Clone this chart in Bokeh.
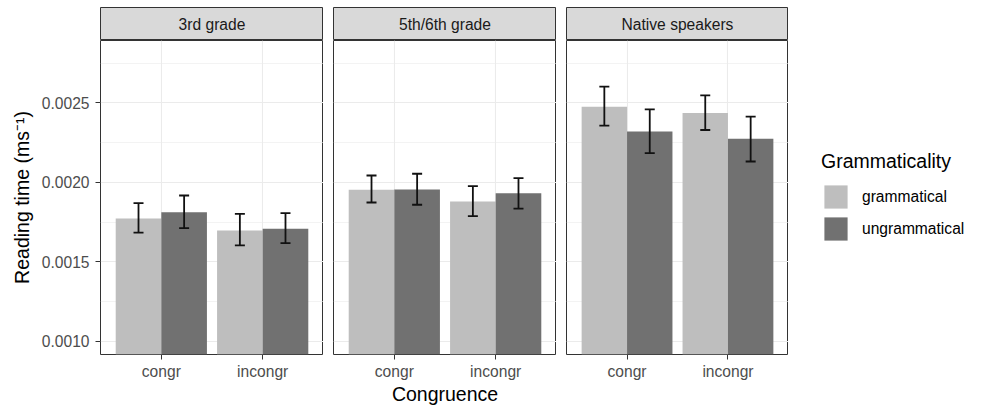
from bokeh.plotting import figure
from bokeh.layouts import row, column
from bokeh.models import (Range1d, FixedTicker, LinearAxis, Grid, PrintfTickFormatter,
                          ColumnDataSource, Whisker, TeeHead, Legend, LegendItem)
from bokeh.core.properties import value
from bokeh.embed import file_html
from bokeh.resources import INLINE

# ---------------- data ----------------
groups = ["3rd grade", "5th/6th grade", "Native speakers"]
congruence = ["congr", "incongr"]
grammaticality = ["grammatical", "ungrammatical"]

# mean reading time per group, [congr, incongr]
gram_mean = [[0.001774, 0.001698], [0.001954, 0.001880], [0.002477, 0.002437]]
ungram_mean = [[0.001813, 0.001709], [0.001956, 0.001933], [0.002320, 0.002275]]
# error bar limits
gram_lower = [[0.001684, 0.001604], [0.001874, 0.001788], [0.002357, 0.002330]]
gram_upper = [[0.001870, 0.001803], [0.002044, 0.001977], [0.002603, 0.002548]]
ungram_lower = [[0.001713, 0.001618], [0.001860, 0.001836], [0.002184, 0.002132]]
ungram_upper = [[0.001918, 0.001807], [0.002055, 0.002027], [0.002460, 0.002414]]

y_major = [0.0010, 0.0015, 0.0020, 0.0025]
y_minor = [0.00125, 0.00175, 0.00225, 0.00275]

# ---------------- style ----------------
FONT = "Liberation Sans"
COL_G = "#BEBEBE"
COL_U = "#717171"
GRID = "#EBEBEB"
BORDER = "#333333"
DODGE = 0.225
BAR_W = 0.45
FRAME_H = 314
STRIP_H = 33

cat_pos = [i + 1 for i in range(len(congruence))]
label_map = {pos: name for pos, name in zip(cat_pos, congruence)}


def base_fig(fw, fh, left, right, top, xr, yr):
    f = figure(frame_width=fw, frame_height=fh, x_range=xr, y_range=yr,
               x_axis_location=None, y_axis_location=None,
               min_border_left=left, min_border_right=right, min_border_top=top,
               min_border_bottom=0, output_backend="svg", toolbar_location=None)
    f.center = []
    f.background_fill_color = "white"
    f.border_fill_color = "white"
    return f


def make_strip(i, fw, left):
    s = base_fig(fw, STRIP_H, left, 0, 7, Range1d(0, 1), Range1d(0, 1))
    s.background_fill_color = "#D9D9D9"
    s.outline_line_color = BORDER
    s.outline_line_width = 1
    s.text(x=[0.5], y=[0.5], text=[groups[i]], text_align="center",
           text_baseline="middle", text_font=value(FONT),
           text_font_size="15.6px", text_color="#1A1A1A")
    return s


def make_panel(i, fw, left, right):
    p = base_fig(fw, FRAME_H, left, right, 0, Range1d(0.4, 2.6),
                 Range1d(0.000918, 0.002893))
    p.outline_line_color = BORDER
    p.outline_line_width = 1

    p.add_layout(Grid(dimension=0, ticker=FixedTicker(ticks=cat_pos),
                      grid_line_color=GRID, grid_line_width=1.1))
    p.add_layout(Grid(dimension=1, ticker=FixedTicker(ticks=y_major, minor_ticks=y_minor),
                      grid_line_color=GRID, grid_line_width=1.1,
                      minor_grid_line_color=GRID, minor_grid_line_width=0.6))

    xg = [c - DODGE for c in cat_pos]
    xu = [c + DODGE for c in cat_pos]
    p.vbar(x=xg, top=gram_mean[i], bottom=0, width=BAR_W,
           fill_color=COL_G, line_color=None)
    p.vbar(x=xu, top=ungram_mean[i], bottom=0, width=BAR_W,
           fill_color=COL_U, line_color=None)

    src = ColumnDataSource(dict(x=xg + xu,
                                lower=gram_lower[i] + ungram_lower[i],
                                upper=gram_upper[i] + ungram_upper[i]))
    w = Whisker(source=src, base="x", upper="upper", lower="lower",
                dimension="height", line_color="#111111", line_width=1.8,
                upper_head=TeeHead(size=10, line_width=1.8, line_color="#111111"),
                lower_head=TeeHead(size=10, line_width=1.8, line_color="#111111"),
                level="overlay")
    p.add_layout(w)

    xa = LinearAxis(ticker=FixedTicker(ticks=cat_pos), major_label_overrides=label_map)
    xa.axis_line_color = None
    xa.major_tick_line_color = BORDER
    xa.major_tick_out = 5
    xa.major_tick_in = 0
    xa.minor_tick_line_color = None
    xa.major_label_text_font = FONT
    xa.major_label_text_font_size = "15.6px"
    xa.major_label_text_color = "#4D4D4D"
    xa.major_label_standoff = 3
    if i == 1:
        xa.axis_label = "Congruence"
        xa.axis_label_text_font = FONT
        xa.axis_label_text_font_size = "19.5px"
        xa.axis_label_text_font_style = "normal"
        xa.axis_label_text_color = "black"
        xa.axis_label_standoff = 0
    p.add_layout(xa, "below")

    if i == 0:
        ya = LinearAxis(ticker=FixedTicker(ticks=y_major, minor_ticks=y_minor),
                        formatter=PrintfTickFormatter(format="%.4f"))
        ya.axis_line_color = None
        ya.major_tick_line_color = BORDER
        ya.major_tick_out = 5
        ya.major_tick_in = 0
        ya.minor_tick_line_color = None
        ya.major_label_text_font = FONT
        ya.major_label_text_font_size = "15.6px"
        ya.major_label_text_color = "#4D4D4D"
        ya.major_label_standoff = 6
        ya.axis_label = "Reading time (ms\u207b\u00b9)"
        ya.axis_label_text_font = FONT
        ya.axis_label_text_font_size = "19.5px"
        ya.axis_label_text_font_style = "normal"
        ya.axis_label_text_color = "black"
        ya.axis_label_standoff = 6
        p.add_layout(ya, "left")
    return p


cols = []
specs = [(223, 100, 0), (223, 10, 0), (222, 10, 0)]
for i, (fw, left, right) in enumerate(specs):
    cols.append(column(make_strip(i, fw, left), make_panel(i, fw, left, right)))

# legend figure: proxy renderers drawn from the Native-speaker data, kept outside
# the visible y range so that only the legend keys show
LEG_H = 398
lf = base_fig(188, LEG_H, 0, 0, 0, Range1d(0.4, 2.6), Range1d(1, 2))
lf.outline_line_color = None
lr_g = lf.vbar(x=cat_pos, top=gram_mean[2], bottom=0, width=BAR_W,
               fill_color=COL_G, line_color=None)
lr_u = lf.vbar(x=cat_pos, top=ungram_mean[2], bottom=0, width=BAR_W,
               fill_color=COL_U, line_color=None)
leg = Legend(items=[LegendItem(label=grammaticality[0], renderers=[lr_g]),
                    LegendItem(label=grammaticality[1], renderers=[lr_u])],
             location=(33, LEG_H - 243), title="Grammaticality")
leg.title_text_font = FONT
leg.title_text_font_size = "19.5px"
leg.title_text_font_style = "normal"
leg.title_text_color = "black"
leg.title_standoff = 9
leg.label_text_font = FONT
leg.label_text_font_size = "15.6px"
leg.label_text_color = "black"
leg.glyph_width = 29
leg.glyph_height = 29
leg.label_height = 29
leg.label_standoff = 12
leg.spacing = 3
leg.padding = 0
leg.margin = 0
leg.border_line_color = None
leg.background_fill_alpha = 0
lf.add_layout(leg)

layout = row(*cols, lf)

with open("out.html", "w") as fh:
    fh.write(file_html(layout, INLINE))
